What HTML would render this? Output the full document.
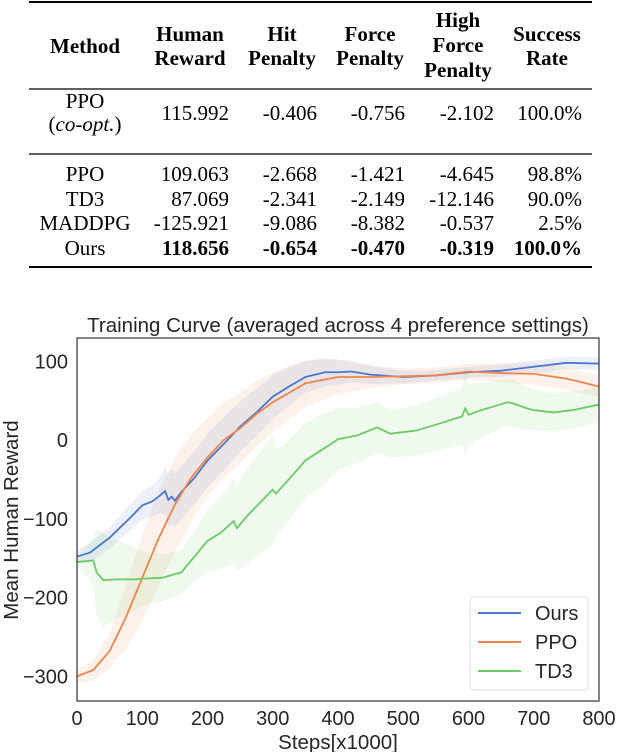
<!DOCTYPE html>
<html><head><meta charset="utf-8">
<style>
body{margin:0;background:#fff;width:618px;height:752px;overflow:hidden}
svg{position:absolute;left:0;top:0}
.tb{font-family:"Liberation Serif",serif;font-size:21px;fill:#000}
.hd{font-weight:bold}
.ch{font-family:"Liberation Sans",sans-serif;fill:#262626}
</style></head><body>
<svg width="618" height="752">
<g class="tb">
<line x1="29" x2="592" y1="2" y2="2" stroke="#000" stroke-width="2"/>
<line x1="29" x2="592" y1="89" y2="89" stroke="#000" stroke-width="1.3"/>
<line x1="29" x2="592" y1="154" y2="154" stroke="#000" stroke-width="1.3"/>
<line x1="29" x2="592" y1="267" y2="267" stroke="#000" stroke-width="2"/>
<g class="hd" text-anchor="middle" dominant-baseline="central">
<text x="85" y="46">Method</text>
<text x="190" y="34">Human</text><text x="190" y="58">Reward</text>
<text x="282" y="34">Hit</text><text x="282" y="58">Penalty</text>
<text x="370" y="34">Force</text><text x="370" y="58">Penalty</text>
<text x="458" y="20">High</text><text x="458" y="45">Force</text><text x="458" y="70">Penalty</text>
<text x="547" y="34">Success</text><text x="547" y="58">Rate</text>
</g>
<g dominant-baseline="central">
<text x="85" y="101" text-anchor="middle">PPO</text>
<text x="85" y="124" text-anchor="middle"><tspan>(</tspan><tspan font-style="italic">co-opt.</tspan><tspan>)</tspan></text>
<g text-anchor="end"><text x="229" y="113">115.992</text><text x="317" y="113">-0.406</text><text x="405" y="113">-0.756</text><text x="494" y="113">-2.102</text><text x="582" y="113">100.0%</text></g>
<g text-anchor="middle"><text x="85" y="174">PPO</text><text x="85" y="199">TD3</text><text x="85" y="223">MADDPG</text><text x="85" y="248">Ours</text></g>
<g text-anchor="end">
<text x="229" y="174">109.063</text><text x="317" y="174">-2.668</text><text x="405" y="174">-1.421</text><text x="494" y="174">-4.645</text><text x="582" y="174">98.8%</text>
<text x="229" y="199">87.069</text><text x="317" y="199">-2.341</text><text x="405" y="199">-2.149</text><text x="494" y="199">-12.146</text><text x="582" y="199">90.0%</text>
<text x="229" y="223">-125.921</text><text x="317" y="223">-9.086</text><text x="405" y="223">-8.382</text><text x="494" y="223">-0.537</text><text x="582" y="223">2.5%</text>
<g class="hd"><text x="229" y="248">118.656</text><text x="317" y="248">-0.654</text><text x="405" y="248">-0.470</text><text x="494" y="248">-0.319</text><text x="582" y="248">100.0%</text></g>
</g>
</g>
</g>
<g id="chart"></g>
</svg>
<script>
const xTicks=[0,100,200,300,400,500,600,700,800];
const yTicks=[100,0,-100,-200,-300];
const oursX=[0,20,50,80,100,115,125,135,140,145,150,160,180,200,225,250,275,300,325,350,380,400,420,450,500,550,600,650,700,750,800];
const oursY=[-148,-143,-124,-100,-83,-78,-72,-65,-76,-72,-77,-66,-48,-26,-5,17,35,55,68,80,86,86,87,83,80,82,86,88,93,98,97];
const oursS=[8,12,14,16,18,20,22,30,34,34,34,34,34,34,34,32,30,28,24,20,18,16,14,12,8,7,7,8,8,8,8];
const ppoX=[0,25,50,75,100,125,150,175,200,225,250,275,300,350,400,450,500,550,600,650,700,750,800];
const ppoY=[-300,-292,-268,-225,-175,-125,-82,-48,-22,0,15,33,48,72,80,80,81,82,87,85,84,78,68];
const ppoS=[8,14,22,40,55,60,60,55,50,48,45,42,38,30,22,14,10,10,10,12,14,14,14];
const td3X=[0,25,30,40,60,90,100,130,160,180,200,220,240,245,260,280,300,305,330,350,380,400,430,460,480,520,560,590,595,600,620,660,670,690,700,730,760,800];
const td3Y=[-155,-153,-168,-178,-177,-177,-176,-175,-168,-148,-128,-118,-103,-112,-97,-80,-63,-68,-45,-26,-10,1,6,16,8,12,22,30,40,32,38,48,46,40,38,35,38,45];
const td3S=[5,30,55,60,50,40,35,30,28,32,40,45,55,55,60,65,70,55,50,48,45,40,35,32,30,32,34,36,60,40,34,30,30,28,26,24,24,22];
const series=[["ours","#4878d0",oursX,oursY,oursS],["ppo","#ee854a",ppoX,ppoY,ppoS],["td3","#6acc64",td3X,td3Y,td3S]];
const L=77,R=599,T=338,B=701;
const sx=v=>L+v/800*(R-L);
const sy=v=>440-v*0.7875;
const NS="http://www.w3.org/2000/svg";
const g=document.getElementById('chart');
function mk(tag,at,parent){const e=document.createElementNS(NS,tag);for(const k in at)e.setAttribute(k,at[k]);(parent||g).appendChild(e);return e;}
const title=mk('text',{x:338,y:332,'text-anchor':'middle','font-size':20.5,class:'ch'});


title.textContent='Training Curve (averaged across 4 preference settings)';
for(const s of series){
  const [nm,col,xs,ys,ss]=s;
  let up=xs.map((x,i)=>sx(x)+','+sy(ys[i]+ss[i]));
  let dn=xs.map((x,i)=>sx(x)+','+sy(ys[i]-ss[i])).reverse();
  const band=mk('polygon',{points:up.concat(dn).join(' '),fill:col,'fill-opacity':0.11,stroke:'none'});
  
  
}
for(const s of series){
  const [nm,col,xs,ys]=s;
  const ln=mk('polyline',{points:xs.map((x,i)=>sx(x)+','+sy(ys[i])).join(' '),fill:'none',stroke:col,'stroke-width':1.8});
  
  
}
const frame=mk('rect',{x:L,y:T,width:R-L,height:B-T,fill:'none',stroke:'#333','stroke-width':1.2});


for(const t of xTicks){const e=mk('text',{x:sx(t),y:725,'text-anchor':'middle','font-size':20,class:'ch'});


e.textContent=t;}
for(const t of yTicks){const e=mk('text',{x:68,y:sy(t)+7,'text-anchor':'end','font-size':20,class:'ch'});


e.textContent=t<0?'\u2212'+(-t):t;}
const xl=mk('text',{x:338,y:749,'text-anchor':'middle','font-size':20.5,class:'ch'});


xl.textContent='Steps[x1000]';
const yl=mk('text',{x:0,y:0,'text-anchor':'middle','font-size':20.5,class:'ch',transform:'translate(18,520) rotate(-90)'});


yl.textContent='Mean Human Reward';
const lg=mk('rect',{x:470,y:597,width:118,height:93,rx:3,fill:'#fff','fill-opacity':0.85,stroke:'#ddd'});


const labs=['Ours','PPO','TD3'];
series.forEach((s,i)=>{const y=613+i*29;
 const l=mk('line',{x1:478,x2:521,y1:y,y2:y,stroke:s[1],'stroke-width':2});
 
 
 const t=mk('text',{x:535,y:y+7,'font-size':20,class:'ch'});
 
 
 t.textContent=labs[i];});
</script>
</body></html>
